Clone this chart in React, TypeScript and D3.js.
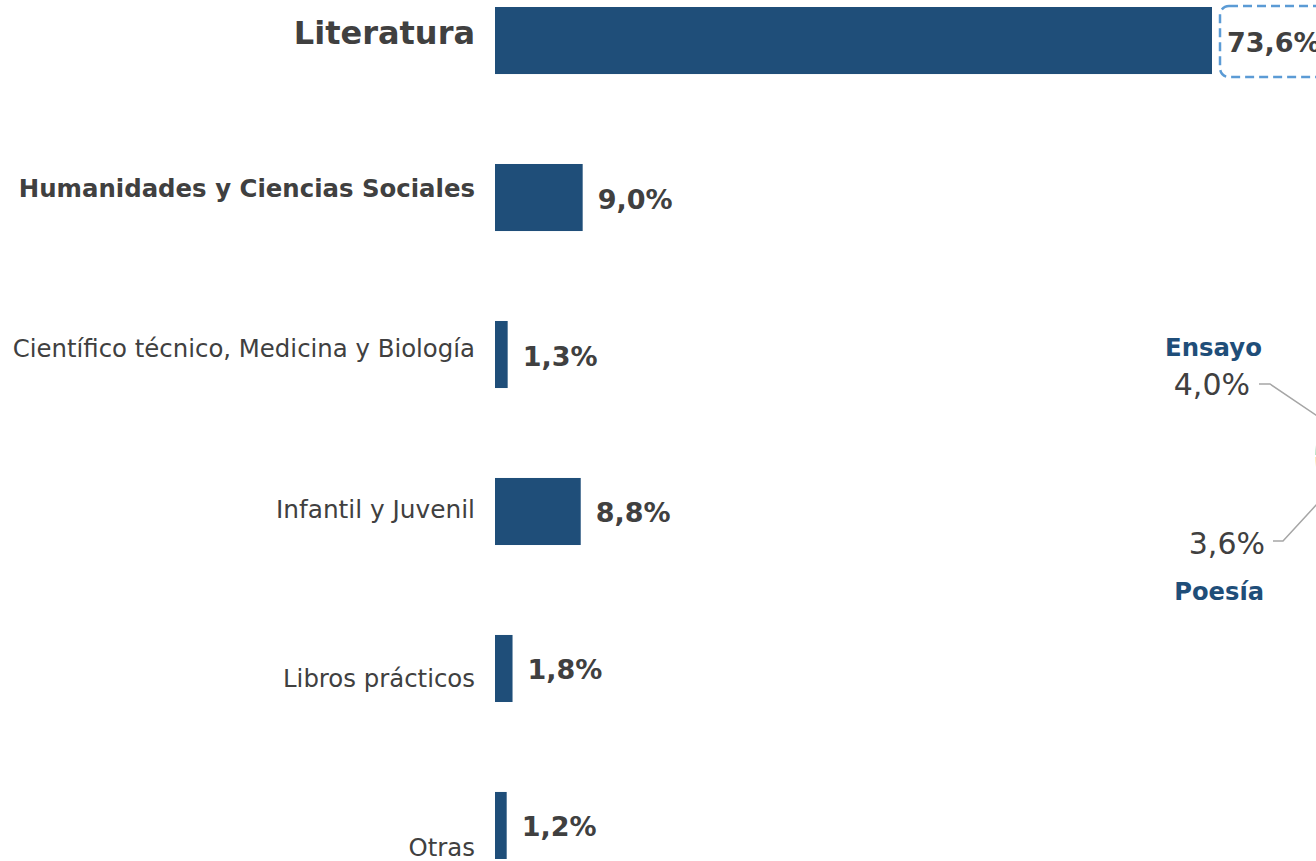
import React from "react";
import * as d3 from "d3";

const categories = [
  "Literatura",
  "Humanidades y Ciencias Sociales",
  "Científico técnico, Medicina y Biología",
  "Infantil y Juvenil",
  "Libros prácticos",
  "Otras",
];
const values = [73.6, 9.0, 1.3, 8.8, 1.8, 1.2];

const pieLabels = ["Ensayo", "Resto", "Poesía"];
const pieValues = [4.0, 66.0, 3.6];
const pieColors = ["#70c48a", "#1f4e79", "#f6cf6a"];

// label styling per category (size, weight, vertical nudge)
const labelSize = [32, 24.4, 24.4, 24.8, 24.4, 24.4];
const labelWeight = [700, 700, 400, 400, 400, 400];
const labelNudge = [-7.5, -9.5, -6.5, -1.5, 10.5, 22.5];

const W = 1316;
const H = 861;
const FONT = "'DejaVu Sans', Verdana, sans-serif";
const fmt = (v: number) => v.toFixed(1).replace(".", ",") + "%";

export default function App() {
  const y = d3.scaleBand<string>().domain(categories).range([7, 859]).paddingInner(0.573).paddingOuter(0);
  const x = d3.scaleLinear().domain([0, 73.6]).range([495, 1212]);

  const R = 120;
  const cx = W + R - 1.5;
  const cy = 456;
  const pie = d3
    .pie<number>()
    .sort(null)
    .startAngle((3 * Math.PI) / 2)
    .endAngle((3 * Math.PI) / 2 + 2 * Math.PI)(pieValues);
  const arc = d3.arc<d3.PieArcDatum<number>>().innerRadius(0).outerRadius(R);

  const mid = (d: d3.PieArcDatum<number>) => (d.startAngle + d.endAngle) / 2;
  const edge = (d: d3.PieArcDatum<number>, r: number) => [
    cx + r * Math.sin(mid(d)),
    cy - r * Math.cos(mid(d)),
  ];

  const ensayo = pie[0];
  const poesia = pie[2];
  const e1 = edge(ensayo, R * 0.66);
  const p1 = edge(poesia, R * 0.72);

  return (
    <svg width={W} height={H} style={{ position: "absolute", left: 0, top: 0, background: "#fff" }} fontFamily={FONT}>
      {/* bars */}
      {categories.map((c, i) => (
        <rect key={c} x={x(0)} y={y(c)!} width={x(values[i]) - x(0)} height={y.bandwidth()} fill="#1f4e79" />
      ))}
      {/* category labels */}
      {categories.map((c, i) => (
        <text
          key={"l" + c}
          x={475}
          y={y(c)! + y.bandwidth() / 2 + labelNudge[i]}
          textAnchor="end"
          dominantBaseline="central"
          fontSize={labelSize[i]}
          fontWeight={labelWeight[i]}
          fill="#404040"
        >
          {c}
        </text>
      ))}
      {/* value labels */}
      {categories.map((c, i) => (
        <text
          key={"v" + c}
          x={x(values[i]) + 15}
          y={y(c)! + y.bandwidth() / 2 + 1.5}
          dominantBaseline="central"
          fontSize={27}
          fontWeight={700}
          fill="#404040"
        >
          {fmt(values[i])}
        </text>
      ))}
      {/* highlight box */}
      <rect
        x={x(values[0]) + 8}
        y={y(categories[0])! - 1}
        width={130}
        height={y.bandwidth() + 4}
        rx={9}
        fill="none"
        stroke="#5b9bd5"
        strokeWidth={2.5}
        strokeDasharray="9 5"
      />
      {/* pie */}
      <g>
        {pie.map((d, i) => (
          <path
            key={pieLabels[i]}
            d={arc(d)!}
            transform={`translate(${cx},${cy})`}
            fill={pieColors[i]}
            stroke="#fff"
            strokeWidth={2}
          />
        ))}
      </g>
      {/* leader lines */}
      <polyline points={`1259,384 1270,384 ${e1[0]},${e1[1]}`} fill="none" stroke="#a6a6a6" strokeWidth={1.5} />
      <polyline points={`1273,541 1283,541 ${p1[0]},${p1[1]}`} fill="none" stroke="#a6a6a6" strokeWidth={1.5} />
      {/* pie labels */}
      <text x={1262} y={347} textAnchor="end" dominantBaseline="central" fontSize={24.4} fontWeight={700} fill="#1f4e79">
        {pieLabels[0]}
      </text>
      <text x={1250} y={384} textAnchor="end" dominantBaseline="central" fontSize={30} fill="#404040">
        {fmt(pieValues[0])}
      </text>
      <text x={1265} y={543} textAnchor="end" dominantBaseline="central" fontSize={30} fill="#404040">
        {fmt(pieValues[2])}
      </text>
      <text x={1264} y={592} textAnchor="end" dominantBaseline="central" fontSize={24.2} fontWeight={700} fill="#1f4e79">
        {pieLabels[2]}
      </text>
    </svg>
  );
}
